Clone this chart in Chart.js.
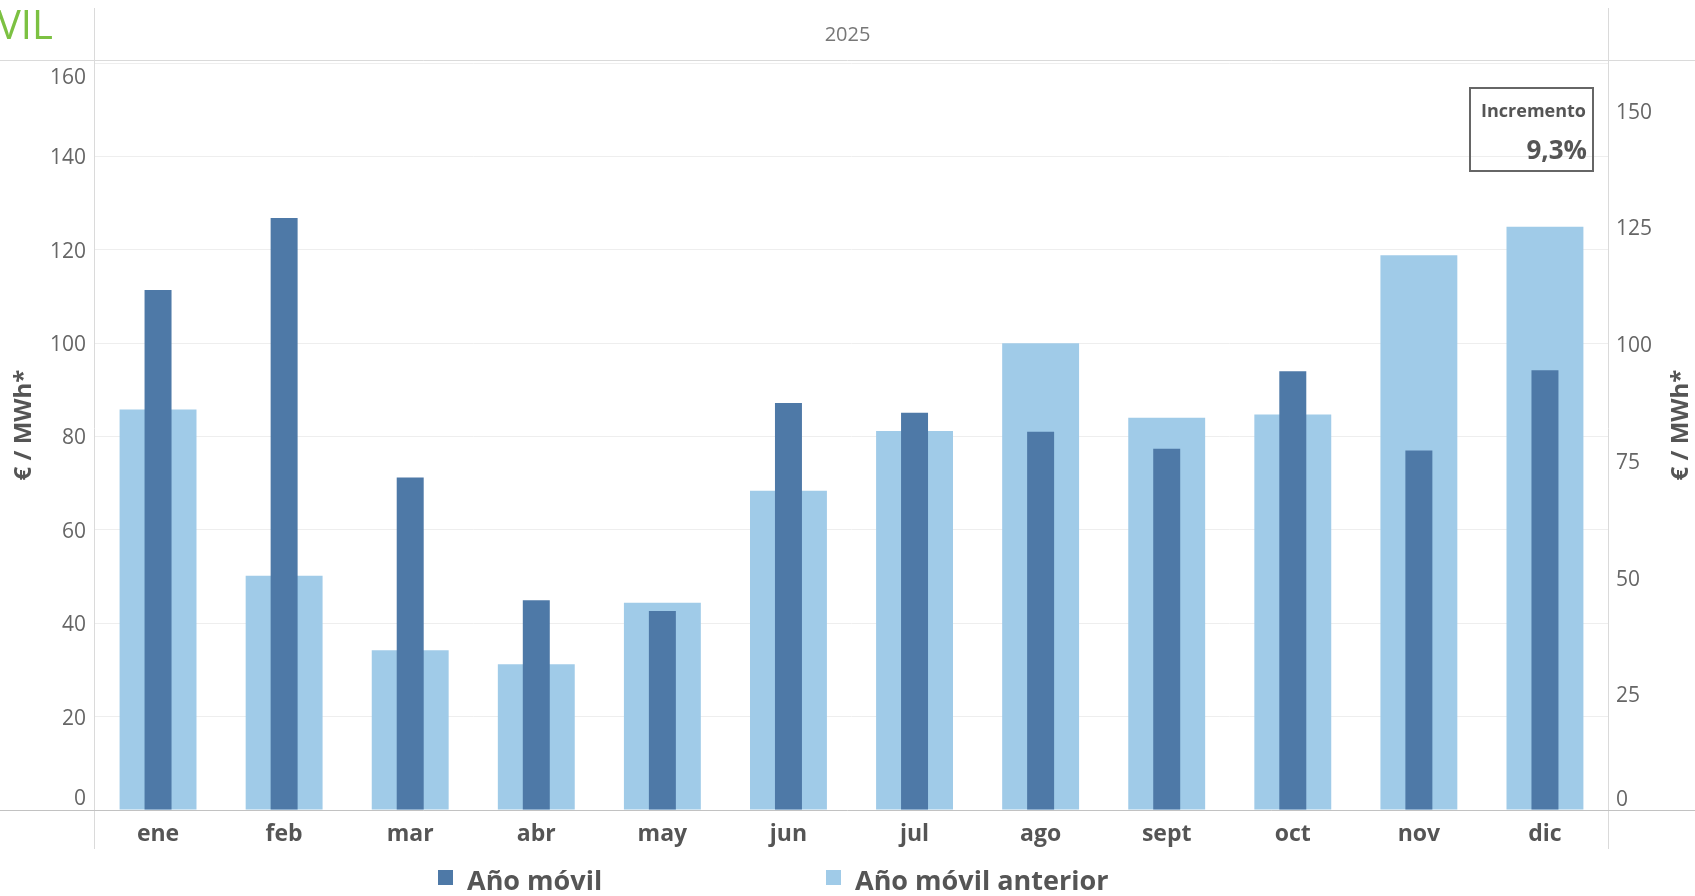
<!DOCTYPE html>
<html lang="es">
<head>
<meta charset="utf-8">
<title>Año móvil</title>
<script src="https://cdn.jsdelivr.net/npm/chart.js@4.4.1/dist/chart.umd.min.js"></script>
<style>
    body { margin: 0; background: #fff; font-family: "Open Sans", sans-serif; }
    #wrap { position: relative; width: 1695px; height: 896px; overflow: hidden; }
    #cut-title { position: absolute; left: -3px; top: -4px; font-size: 40px; color: #7cc142; }
    #incremento {
        position: absolute; left: 1469px; top: 87px; width: 121px; height: 81px;
        border: 2px solid #666; text-align: right; color: #555; font-weight: bold;
    }
    #incremento .lbl { position: absolute; right: 6px; top: 9px; font-size: 18px; }
    #incremento .val { position: absolute; right: 5px; top: 42px; font-size: 26px; }
    .legend-item { position: absolute; top: 861px; height: 36px; font-size: 27px; font-weight: bold; color: #555; }
    .legend-item .box { position: absolute; left: 0; top: 9px; width: 15px; height: 15px; }
    .legend-item .txt { position: absolute; left: 29px; top: 0; white-space: nowrap; }
</style>
</head>
<body>
<div id="wrap">
    <canvas id="anual-chart" width="1695" height="896"></canvas>
    <div id="cut-title">VIL</div>
    <div id="incremento"><span class="lbl">Incremento</span><span class="val">9,3%</span></div>
    <div class="legend-item" style="left:438px"><span class="box" style="background:#4e79a7"></span><span class="txt">Año móvil</span></div>
    <div class="legend-item" style="left:826px"><span class="box" style="background:#a0cbe8"></span><span class="txt">Año móvil anterior</span></div>
</div>
<script>
    const months = ['ene', 'feb', 'mar', 'abr', 'may', 'jun', 'jul', 'ago', 'sept', 'oct', 'nov', 'dic'];
    // €/MWh
    const anoMovil = [111.4, 126.8, 71.2, 44.9, 42.6, 87.2, 85.1, 81.0, 77.4, 94.0, 77.0, 94.2];
    const anoMovilAnterior = [85.8, 50.2, 34.2, 31.2, 44.4, 68.4, 81.2, 100.0, 84.0, 84.7, 118.8, 124.9];
    const yearLabel = '2025';
    const unitLabel = '€ / MWh*';

    Chart.defaults.font.family = '"Open Sans", sans-serif';

    // edge labels sit inside the pane, like Tableau does it
    function edgeLabel(value) {
        if (value === 0) return ['0', ''];
        if (value === 160) return ['', '160'];
        return String(value);
    }

    // Tableau-like frame: header rule, baseline, the two axis rules and axis titles
    const frameLines = {
        id: 'frameLines',
        afterDatasetsDraw(chart) {
            const { ctx, chartArea, width } = chart;
            const y0 = Math.round(chart.scales.y.getPixelForValue(0)) + 0.5;
            ctx.save();
            ctx.lineWidth = 1;
            ctx.strokeStyle = '#dadada';
            ctx.beginPath();
            ctx.moveTo(0, 60.5); ctx.lineTo(width, 60.5);
            ctx.moveTo(chartArea.left - 0.5, 8); ctx.lineTo(chartArea.left - 0.5, 849);
            ctx.moveTo(chartArea.right + 0.5, 8); ctx.lineTo(chartArea.right + 0.5, 849);
            ctx.stroke();
            ctx.strokeStyle = '#c2c2c2';
            ctx.beginPath();
            ctx.moveTo(0, y0); ctx.lineTo(width, y0);
            ctx.stroke();

            ctx.font = 'bold 24px "Open Sans", sans-serif';
            ctx.fillStyle = '#555';
            ctx.textAlign = 'center';
            ctx.textBaseline = 'middle';
            [24, 1681].forEach(x => {
                ctx.save();
                ctx.translate(x, 425);
                ctx.rotate(-Math.PI / 2);
                ctx.fillText(unitLabel, 0, 0);
                ctx.restore();
            });
            ctx.restore();
        }
    };

    const chart = new Chart(document.getElementById('anual-chart'), {
        type: 'bar',
        data: {
            labels: months,
            datasets: [{
                label: 'Año móvil',
                data: anoMovil,
                backgroundColor: '#4e79a7',
                grouped: false,
                barPercentage: 0.214,
                categoryPercentage: 1
            }, {
                label: 'Año móvil anterior',
                data: anoMovilAnterior,
                backgroundColor: '#a0cbe8',
                grouped: false,
                barPercentage: 0.61,
                categoryPercentage: 1
            }]
        },
        options: {
            responsive: false,
            animation: false,
            events: [],
            layout: { padding: 0 },
            plugins: {
                legend: { display: false },
                tooltip: { enabled: false },
                title: {
                    display: true,
                    text: yearLabel,
                    color: '#777',
                    font: { size: 20, weight: 'normal' },
                    padding: { top: 23, bottom: 16 }
                }
            },
            scales: {
                x: {
                    grid: { display: false },
                    border: { display: false },
                    ticks: {
                        color: '#555',
                        font: { size: 23, weight: 'bold' },
                        padding: 3,
                        maxRotation: 0
                    },
                    afterFit(scale) { scale.height = 86; }
                },
                y: {
                    position: 'left',
                    min: 0,
                    max: 160,
                    grid: { color: '#eeeeee', drawTicks: false },
                    border: { display: false },
                    ticks: { stepSize: 20, color: '#666', font: { size: 21 }, padding: 9, labelOffset: 2, callback: edgeLabel },
                    afterFit(scale) { scale.width = 95; }
                },
                y2: {
                    display: true,
                    position: 'right',
                    min: 0,
                    max: 160,
                    bounds: 'data',
                    grid: { display: false, drawTicks: false },
                    border: { display: false },
                    ticks: { stepSize: 25, color: '#666', font: { size: 21 }, padding: 8, labelOffset: 3, callback: edgeLabel },
                    afterBuildTicks(scale) { scale.ticks = scale.ticks.filter(t => t.value <= 150); },
                    afterFit(scale) { scale.width = 87; }
                }
            }
        },
        plugins: [frameLines]
    });
</script>
</body>
</html>
